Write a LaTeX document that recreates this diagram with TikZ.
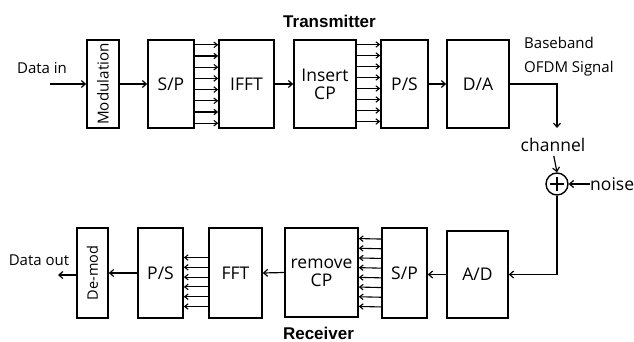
\documentclass[tikz,border=0pt]{standalone}
\usepackage{fontspec}
\setmainfont{Open Sans}
\newfontfamily\boldlab{Liberation Sans}
\usetikzlibrary{arrows.meta,calc}
\begin{document}
\begin{tikzpicture}[x=1pt,y=-1pt,
  blk/.style={draw,line width=1.6pt,inner sep=0pt,align=center,font=\fontsize{17.5}{18}\selectfont},
  arr/.style={line width=1.2pt,-{Straight Barb[length=4pt,width=7pt,line width=1.2pt]}},
  sarr/.style={line width=1.1pt,-{Straight Barb[length=3.5pt,width=5.5pt,line width=1.1pt]}},
  lab/.style={font=\fontsize{15}{16}\selectfont,inner sep=0pt},
  blab/.style={font=\fontsize{17.5}{18}\selectfont,inner sep=0pt},
  ttl/.style={font=\boldlab\bfseries\fontsize{17}{18}\selectfont,inner sep=0pt}
]
\fill[white] (0,0) rectangle (634,342);
\useasboundingbox (0,0) rectangle (634,342);

% titles
\node[ttl] (tx) at (329.5,21) {Transmitter};
\node[ttl] (rx) at (318.5,333) {Receiver};

% transmitter chain
\node[blk,minimum width=32pt,minimum height=88pt] (mod) at (103,84) {\rotatebox{90}{\fontsize{15.2}{16}\selectfont Modulation}};
\node[blk,minimum width=46pt,minimum height=88pt] (sp1) at (171,84) {S/P};
\node[blk,minimum width=55pt,minimum height=88pt] (ifft) at (246.5,84) {IFFT};
\node[blk,minimum width=62pt,minimum height=88pt] (icp) at (325,84) {Insert\\CP};
\node[blk,minimum width=47pt,minimum height=88pt] (ps1) at (404.5,84) {P/S};
\node[blk,minimum width=62pt,minimum height=88pt] (da) at (478,84) {D/A};

\node[lab] (din) at (42,68) {Data in};
\coordinate (dinst) at (50,84);
\draw[arr] (dinst) -- (mod.west);
\draw[arr] (mod.east) -- (sp1.west);
\foreach \i in {0,...,7}{
  \draw[sarr] ([yshift={(\i-3.5)*11.2pt}]sp1.east) -- ([yshift={(\i-3.5)*11.2pt}]ifft.west);
  \draw[sarr] ([yshift={(\i-3.5)*11pt+1pt}]icp.east) -- ([yshift={(\i-3.5)*11pt+1pt}]ps1.west);
}
\draw[arr] (ifft.east) -- (icp.west);
\draw[arr] (ps1.east) -- (da.west);

\node[lab,anchor=west] (bb) at (524,43) {Baseband};
\node[lab,anchor=west] (ofdm) at (524,69) {OFDM Signal};

% channel
\coordinate (chanin) at (557,128);
\draw[arr] (da.east) -| (chanin);
\node[blab] (chan) at (553,145) {channel};
\node[draw,circle,line width=1.4pt,minimum size=22pt,inner sep=0pt] (sum) at (557,184) {};
\draw[line width=1.4pt] ([xshift=-7pt]sum.center) -- ([xshift=7pt]sum.center);
\draw[line width=1.4pt] ([yshift=-7pt]sum.center) -- ([yshift=7pt]sum.center);
\draw[arr,shorten <=4pt] (chan.south) -- (sum.north);
\node[blab,anchor=west] (noise) at (590,184) {noise};
\draw[arr] (noise.west) -- (sum.east);

% receiver chain
\node[blk,minimum width=31pt,minimum height=90pt] (demod) at (92.5,273) {\rotatebox{90}{\fontsize{14.5}{15}\selectfont De-mod}};
\node[blk,minimum width=45pt,minimum height=90pt] (ps2) at (160.5,273) {P/S};
\node[blk,minimum width=53pt,minimum height=90pt] (fft) at (235.5,273) {FFT};
\node[blk,minimum width=73pt,minimum height=89pt] (rcp) at (321.5,272.5) {remove\\CP};
\node[blk,minimum width=45pt,minimum height=90pt] (sp2) at (404.5,273) {S/P};
\node[blk,minimum width=61pt,minimum height=87pt] (ad) at (477.5,274.5) {A/D};

\draw[arr] (sum.south) |- (ad.east);
\draw[arr] (ad.west) -- (sp2.east |- ad.west);
\foreach \i in {0,...,7}{
  \draw[sarr] ([yshift={(\i-3.5)*9.7pt}]sp2.west) -- ([yshift={(\i-3.5)*9.7pt}]rcp.east);
}
\draw[arr] (rcp.west) -- (fft.east);
\foreach \i in {0,...,5}{
  \draw[sarr] ([yshift={(\i-2.5)*9.8pt-9pt}]fft.west) -- ([yshift={(\i-2.5)*9.8pt-9pt}]ps2.east);
}
\draw[arr] (ps2.west) -- (demod.east);
\coordinate (dout) at (58,275);
\draw[arr] (demod.west |- dout) -- (dout);
\node[lab] (dtxt) at (39,260) {Data out};
\end{tikzpicture}
\end{document}
